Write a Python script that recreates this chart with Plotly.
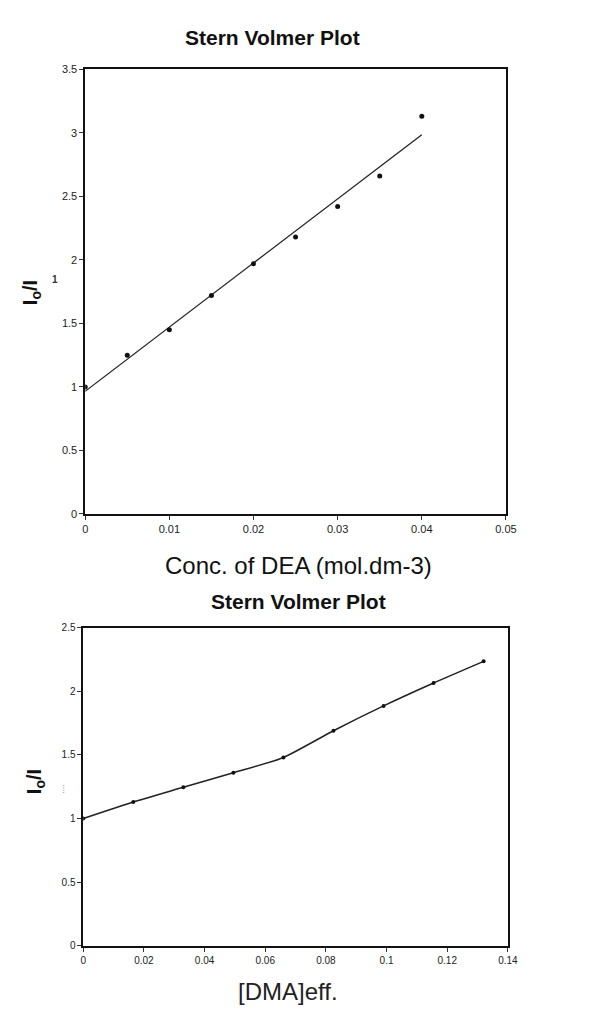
import numpy as np
import plotly.graph_objects as go

W, H = 589, 1010

# Top chart data (DEA)
dea_conc = [0, 0.005, 0.01, 0.015, 0.02, 0.025, 0.03, 0.035, 0.04]
dea_ratio = [1.0, 1.25, 1.45, 1.72, 1.97, 2.18, 2.42, 2.66, 3.13]

# Bottom chart data (DMA)
dma_conc = [0, 0.0165, 0.033, 0.0495, 0.066, 0.0825, 0.099, 0.1155, 0.132]
dma_ratio = [1.0, 1.13, 1.245, 1.36, 1.48, 1.69, 1.885, 2.065, 2.235]

top_xticks = [0, 0.01, 0.02, 0.03, 0.04, 0.05]
top_yticks = [0, 0.5, 1, 1.5, 2, 2.5, 3, 3.5]
bot_xticks = [0, 0.02, 0.04, 0.06, 0.08, 0.1, 0.12, 0.14]
bot_yticks = [0, 0.5, 1, 1.5, 2, 2.5]

# linear trendline for the top chart
slope, intercept = np.polyfit(dea_conc, dea_ratio, 1)
fit_x = [dea_conc[0], dea_conc[-1]]
fit_y = [intercept + slope * v for v in fit_x]

def px_x(p):
    return p / W

def px_y(p):
    return 1 - p / H

FONT = "Liberation Sans Narrow, Arial Narrow, Liberation Sans, Arial, sans-serif"
SANS = "Liberation Sans, Arial, sans-serif"

fig = go.Figure()
fig.add_trace(go.Scatter(x=fit_x, y=fit_y, mode="lines",
                         line=dict(color="#222222", width=1.2),
                         xaxis="x", yaxis="y", showlegend=False))
fig.add_trace(go.Scatter(x=dea_conc, y=dea_ratio, mode="markers",
                         marker=dict(color="#111111", size=5, symbol="circle"),
                         xaxis="x", yaxis="y", showlegend=False))
fig.add_trace(go.Scatter(x=dma_conc, y=dma_ratio, mode="lines+markers",
                         line=dict(color="#222222", width=1.5, shape="spline", smoothing=0.6),
                         marker=dict(color="#111111", size=4, symbol="circle"),
                         xaxis="x2", yaxis="y2", showlegend=False))

def axis_style(size):
    return dict(showgrid=False, zeroline=False, showline=True, linecolor="#111111",
                linewidth=1.5, mirror=True, ticks="outside", ticklen=4, tickwidth=1,
                tickcolor="#333333", tickfont=dict(family=FONT, size=size, color="#222222"))

fig.update_layout(
    width=W, height=H,
    margin=dict(l=0, r=0, t=0, b=0),
    paper_bgcolor="white", plot_bgcolor="white",
    xaxis=dict(domain=[px_x(76), px_x(507)], range=[0, 0.05], tickvals=top_xticks,
               ticktext=[f"{v:g}" for v in top_xticks], anchor="y", **axis_style(11)),
    yaxis=dict(domain=[px_y(506), px_y(56)], range=[0, 3.5], tickvals=top_yticks,
               ticktext=[f"{v:g}" for v in top_yticks], anchor="x", **axis_style(11)),
    xaxis2=dict(domain=[px_x(74), px_x(509)], range=[0, 0.14], tickvals=bot_xticks,
                ticktext=[f"{v:g}" for v in bot_xticks], anchor="y2", **axis_style(10)),
    yaxis2=dict(domain=[px_y(943), px_y(621)], range=[0, 2.5], tickvals=bot_yticks,
                ticktext=[f"{v:g}" for v in bot_yticks], anchor="x2", **axis_style(10)),
)

ann = []
def add_text(text, x, y, size, bold=False, angle=0, color="#111111", family=FONT):
    ann.append(dict(text=f"<b>{text}</b>" if bold else text, x=px_x(x), y=px_y(y),
                    xref="paper", yref="paper", showarrow=False, textangle=angle,
                    xanchor="center", yanchor="middle",
                    font=dict(family=family, size=size, color=color)))

add_text("Stern Volmer Plot", 268, 24, 21, bold=True)
add_text("Conc. of DEA (mol.dm-3)", 294, 558, 24, family=SANS)
add_text("I<sub>o</sub>/I", 21, 282, 20, bold=True, angle=-90, family=SANS)
add_text("1", 45, 269, 10, bold=True, color="#333333")

add_text("Stern Volmer Plot", 295, 595, 21, bold=True)
add_text("[DMA]eff.", 284, 989, 24, family=SANS, color="#222222")
add_text("I<sub>o</sub>/I", 25, 777, 20, bold=True, angle=-90, family=SANS)
add_text("....", 52, 784, 8, angle=-90, color="#555555")

fig.update_layout(annotations=ann)
fig.write_html("out.html")
